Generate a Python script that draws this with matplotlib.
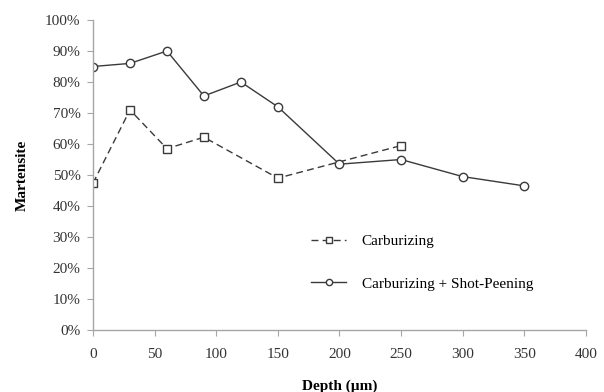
import matplotlib
matplotlib.use("Agg")
import matplotlib.pyplot as plt
from matplotlib.ticker import PercentFormatter

carb_x = [0, 30, 60, 90, 150, 250]
carb_y = [47.4, 71.0, 58.5, 62.2, 49.0, 59.5]
sp_x = [0, 30, 60, 90, 120, 150, 200, 250, 300, 350]
sp_y = [85.0, 86.0, 90.0, 75.5, 80.0, 72.0, 53.5, 55.0, 49.5, 46.5]
x_ticks = [0, 50, 100, 150, 200, 250, 300, 350, 400]
y_ticks = [0, 10, 20, 30, 40, 50, 60, 70, 80, 90, 100]

plt.rcParams['font.family'] = ['Liberation Serif', 'DejaVu Serif']

fig = plt.figure(figsize=(6.04, 3.92), dpi=100)
ax = fig.add_axes([0.154, 0.158, 0.816, 0.791])

lc = '#3a3a3a'
ax.plot(carb_x, carb_y, color=lc, lw=1.0, ls=(0, (5, 3)), marker='s', ms=6,
        mfc='white', mec=lc, mew=1.0, label='Carburizing')
ax.plot(sp_x, sp_y, color=lc, lw=1.0, marker='o', ms=6,
        mfc='white', mec=lc, mew=1.0, label='Carburizing + Shot-Peening')

ax.set_xlim(0, 400)
ax.set_ylim(0, 100)
ax.set_xticks(x_ticks)
ax.set_yticks(y_ticks)
ax.yaxis.set_major_formatter(PercentFormatter(decimals=0))
for s in ['top', 'right']:
    ax.spines[s].set_visible(False)
for s in ['left', 'bottom']:
    ax.spines[s].set_color('#a6a6a6')
    ax.spines[s].set_linewidth(1.0)
ax.tick_params(axis='both', colors='#a6a6a6', labelcolor='#333333', labelsize=11, length=4)
ax.tick_params(axis='x', pad=9)
ax.tick_params(axis='y', pad=5)

ax.set_ylabel('Martensite', fontsize=11, fontweight='bold', labelpad=12)
ax.set_xlabel('Depth (µm)', fontsize=11, fontweight='bold', labelpad=13)

leg = ax.legend(loc='center left', bbox_to_anchor=(0.415, 0.218), frameon=False,
                fontsize=11, labelspacing=1.9, handlelength=2.3, handletextpad=1.0,
                markerscale=0.75)

fig.savefig('out.png', dpi=100)
